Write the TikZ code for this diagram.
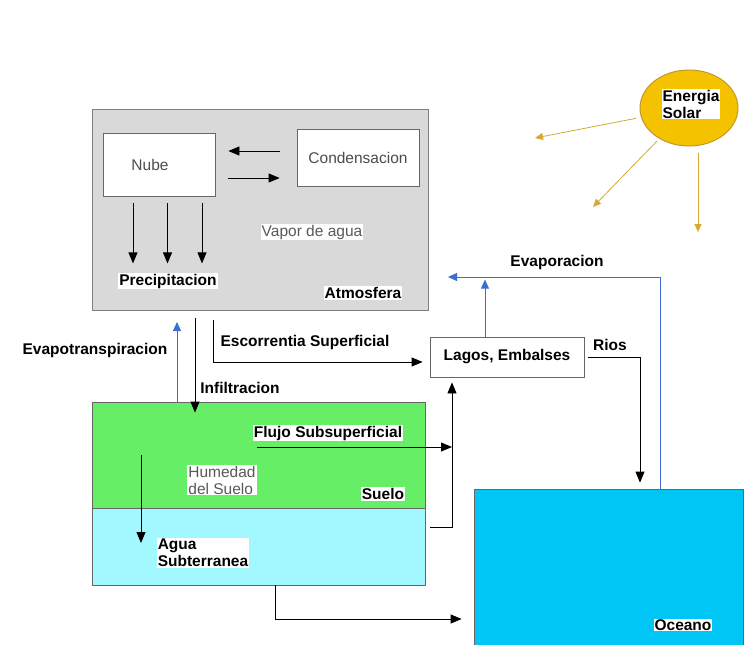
\documentclass[tikz,border=0pt]{standalone}
\usepackage{fontspec}
\setmainfont{Liberation Sans}
\usetikzlibrary{arrows.meta, shapes, positioning}
\definecolor{atmgray}{HTML}{D9D9D9}
\definecolor{soilgreen}{HTML}{66EE66}
\definecolor{groundcyan}{HTML}{A2F8FF}
\definecolor{oceanblue}{HTML}{00C6F6}
\definecolor{sungold}{HTML}{F5C200}
\definecolor{raygold}{HTML}{D4AA30}
\definecolor{evapblue}{HTML}{3C6ED2}
\tikzstyle{box}=[draw=black!60, line width=0.8pt, inner sep=0pt]
\tikzstyle{lbl}=[font=\fontsize{15.5}{17}\selectfont\bfseries, fill=white, inner sep=1pt, align=left]
\tikzstyle{thin}=[font=\fontsize{15.5}{17}\selectfont, text=black!65, fill=white, inner sep=1pt, align=left]
\tikzstyle{flow}=[line width=0.8pt, -{Triangle[length=11pt,width=9pt]}]
\tikzstyle{vapor}=[line width=0.8pt, evapblue, -{Triangle[length=9pt,width=8pt]}]
\tikzstyle{ray}=[line width=0.8pt, raygold, -{Triangle[length=8pt,width=7pt]}]
\begin{document}
\begin{tikzpicture}[x=1pt, y=-1pt]
\useasboundingbox (0,0) rectangle (745,645);
% boxes
\node [box, draw=black!50, fill=atmgray, minimum width=336pt, minimum height=201pt] (atm) at (260,209.5){};
\node [box, fill=white, minimum width=112pt, minimum height=63pt, font=\fontsize{15.5}{17}\selectfont, text=black!70] (nube) at (159,164.5){\hspace*{-18pt}Nube};
\node [box, fill=white, minimum width=122pt, minimum height=57pt, font=\fontsize{15.5}{17}\selectfont, text=black!70] (cond) at (358,157.5){Condensacion};
\node [box, fill=white, minimum width=154pt, minimum height=40pt, font=\fontsize{15.5}{17}\selectfont\bfseries] (lagos) at (507,357){Lagos, Embalses};
\node [box, fill=soilgreen, minimum width=333pt, minimum height=106pt] (suelo) at (258.5,455){};
\node [box, fill=groundcyan, minimum width=333pt, minimum height=77pt] (subt) at (258.5,546.5){};
\node [box, fill=oceanblue, minimum width=269pt, minimum height=156pt] (ocean) at (608.5,567){};
\node [ellipse, draw=raygold!90!black, line width=1pt, fill=sungold, minimum width=98pt, minimum height=76pt] (sun) at (689,108){};

% labels
\node [lbl] (sol) at (691,104){Energia\\Solar};
\node [lbl] (prec) at (168,281){Precipitacion};
\node [thin] (vap) at (312,232){Vapor de agua};
\node [lbl] (atmlbl) at (363,293){Atmosfera};
\node [lbl] (evap) at (557,262){Evaporacion};
\node [lbl] (rios) at (610,345){Rios};
\node [lbl] (evtr) at (95,350){Evapotranspiracion};
\node [lbl] (esclbl) at (305,342){Escorrentia Superficial};
\node [lbl] (inflbl) at (240,388){Infiltracion};
\node [lbl] (flujo) at (328,433){Flujo Subsuperficial};
\node [thin] (humedad) at (222,480){Humedad\\del Suelo};
\node [lbl] (suelolbl) at (383,494){Suelo};
\node [lbl] (agua) at (203,553){Agua\\Subterranea};
\node [lbl] (oceano) at (683,625){Oceano};

\coordinate (ray1) at (535,138); \coordinate (ray2) at (593,207); \coordinate (ray3) at (698,232);
\coordinate (et) at (177,322); \coordinate (inf) at (195,318); \coordinate (esc) at (213,320);
\coordinate (fs) at (257,447); \coordinate (riser) at (452,527);
\coordinate (hum1) at (141,455); \coordinate (hum2) at (141,543);
\coordinate (evtop) at (448,277);

% connectors
\draw [flow] ([shift={(-17,-6.5)}]cond.west) -- ([shift={(13,-13.5)}]nube.east);
\draw [flow] ([shift={(13,13.5)}]nube.east) -- ([shift={(-17,20.5)}]cond.west);
\foreach \dx in {-26,8.5,43} \draw [flow] ([shift={(\dx,7)}]nube.south) -- ([shift={(\dx,67)}]nube.south);
\draw [ray, shorten <=5pt] (sun) -- (ray1); \draw [ray, shorten <=3pt] (sun) -- (ray2);
\draw [ray, shorten <=6pt] (ray3 |- sun.south) -- (ray3);
\draw [vapor] ([xshift=51.5pt]ocean.north) |- (evtop);
\draw [vapor] ([xshift=-22pt]lagos.north) -- ++(0,-57);
\draw [vapor] (et |- suelo.north) -- (et);
\draw [flow, shorten >=-11pt] (inf) -- (inf |- suelo.north);
\draw [flow, shorten >=7pt] (esc) |- ([yshift=-5pt]lagos.west);
\draw [flow] (fs) -- (fs -| riser);
\draw [flow, shorten >=5pt] ([xshift=5pt]subt.north east |- riser) -| (riser |- lagos.south);
\draw [flow, shorten >=6pt] ([xshift=4pt]lagos.east) -| ([xshift=31.5pt]ocean.north);
\draw [flow] (hum1) -- (hum2);
\draw [flow, shorten >=12pt] ([xshift=16.5pt]subt.south) |- ([yshift=-52pt]ocean.west);
\end{tikzpicture}
\end{document}
